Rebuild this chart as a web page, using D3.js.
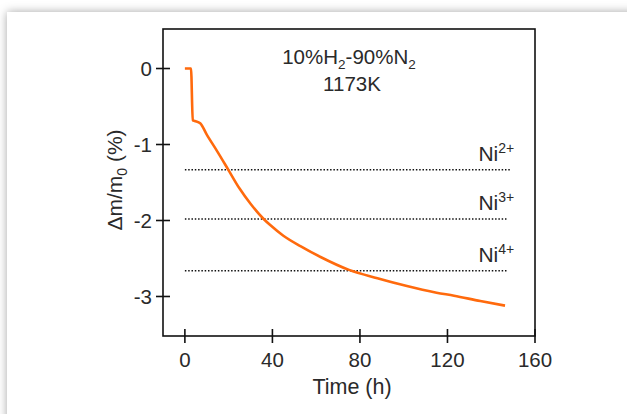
<!DOCTYPE html>
<html lang="en">
    <head>
        <meta charset="utf-8">
        <title>Mass change vs time</title>
        <script src="https://d3js.org/d3.v7.min.js"></script>
        <style type="text/css">
         body { margin: 0; background: #fff; overflow: hidden; }
         #card { position: absolute; left: 7px; top: 12px; width: 700px; height: 500px;
                 background: #fff; box-shadow: 0 0 9px rgba(0,0,0,0.35); }
         svg { position: absolute; left: 0; top: 0; }
         text { font-family: "Liberation Sans", Arial, sans-serif; fill: #2a2a2a; }
        </style>
    </head>
    <body>
        <div id="card"></div>
        <script>
         // Time (h) and mass change (%)
         var timeH = [0, 2.8, 3.6, 4.5, 7, 10, 15, 20, 25, 30, 36, 39, 45, 53, 62, 75, 88, 101, 115, 123, 135, 146.3];
         var dmPct = [0, 0, -0.68, -0.69, -0.72, -0.87, -1.1, -1.34, -1.58, -1.78, -1.98, -2.06, -2.2, -2.34, -2.48, -2.65, -2.76, -2.86, -2.95, -2.99, -3.06, -3.12];

         // reference levels
         var levelNames = ["2+", "3+", "4+"];
         var levelValues = [-1.333, -1.98, -2.66];
         var levelEnd = [148.5, 147, 147];

         var xTicks = [0, 40, 80, 120, 160];
         var yTicks = [0, -1, -2, -3];

         var width = 627, height = 414;
         var margin = {left: 163, top: 29, right: 92, bottom: 78};
         var fs = 20.5;

         var svg = d3.select("body").append("svg")
                     .attr("width", width)
                     .attr("height", height);

         var x = d3.scaleLinear().domain([-10, 160]).range([margin.left, width - margin.right]);
         var y = d3.scaleLinear().domain([-3.52, 0.52]).range([height - margin.bottom, margin.top]);

         // frame
         svg.append("rect")
            .attr("x", x(-10)).attr("y", y(0.52))
            .attr("width", x(160) - x(-10)).attr("height", y(-3.52) - y(0.52))
            .attr("fill", "none").attr("stroke", "#111").attr("stroke-width", 1.6);

         // x ticks (crossing the axis)
         var xAxis = svg.append("g").attr("transform", "translate(0," + y(-3.52) + ")");
         xAxis.selectAll("line").data(xTicks).enter().append("line")
              .attr("x1", function(d) { return x(d); }).attr("x2", function(d) { return x(d); })
              .attr("y1", -7).attr("y2", 7)
              .attr("stroke", "#111").attr("stroke-width", 1.6);
         xAxis.selectAll("text").data(xTicks).enter().append("text")
              .attr("x", function(d) { return x(d); }).attr("y", 31)
              .attr("text-anchor", "middle").attr("font-size", fs)
              .text(function(d) { return d; });

         // y ticks
         var yAxis = svg.append("g").attr("transform", "translate(" + x(-10) + ",0)");
         yAxis.selectAll("line").data(yTicks).enter().append("line")
              .attr("y1", function(d) { return y(d); }).attr("y2", function(d) { return y(d); })
              .attr("x1", -7).attr("x2", 7)
              .attr("stroke", "#111").attr("stroke-width", 1.6);
         yAxis.selectAll("text").data(yTicks).enter().append("text")
              .attr("y", function(d) { return y(d) + 7.5; }).attr("x", -11)
              .attr("text-anchor", "end").attr("font-size", fs)
              .text(function(d) { return d; });

         // axis titles
         svg.append("text")
            .attr("x", 352).attr("y", 394)
            .attr("text-anchor", "middle").attr("font-size", 21.5)
            .text("Time (h)");

         var yl = svg.append("text")
            .attr("transform", "translate(122," + 180 + ") rotate(-90)")
            .attr("text-anchor", "middle").attr("font-size", 21);
         yl.append("tspan").text("\u0394m/m");
         yl.append("tspan").attr("font-size", 14).attr("dy", 5).text("0");
         yl.append("tspan").attr("dy", -5).text(" (%)");

         // dotted reference lines
         svg.selectAll(".lvl").data(levelValues).enter().append("line")
            .attr("class", "lvl")
            .attr("x1", x(0)).attr("x2", function(d, i) { return x(levelEnd[i]); })
            .attr("y1", function(d) { return y(d); }).attr("y2", function(d) { return y(d); })
            .attr("stroke", "#111").attr("stroke-width", 1.5)
            .attr("stroke-dasharray", "1.5,1.8");

         var lab = svg.selectAll(".lab").data(levelValues).enter().append("text")
            .attr("class", "lab")
            .attr("x", x(150.5)).attr("y", function(d) { return y(d) - 9; })
            .attr("text-anchor", "end").attr("font-size", 21);
         lab.append("tspan").text("Ni");
         lab.append("tspan").attr("font-size", 14).attr("dy", -8)
            .text(function(d, i) { return levelNames[i]; });

         // title
         var t1 = svg.append("text").attr("x", 349).attr("y", 64)
                     .attr("text-anchor", "middle").attr("font-size", 20.5);
         t1.append("tspan").text("10%H");
         t1.append("tspan").attr("font-size", 13.5).attr("dy", 5).text("2");
         t1.append("tspan").attr("dy", -5).text("-90%N");
         t1.append("tspan").attr("font-size", 13.5).attr("dy", 5).text("2");
         svg.append("text").attr("x", 352).attr("y", 91)
            .attr("text-anchor", "middle").attr("font-size", 20.5)
            .text("1173K");

         // curve
         var line = d3.line()
                      .x(function(d) { return x(d[0]); })
                      .y(function(d) { return y(d[1]); })
                      .curve(d3.curveMonotoneX);
         svg.append("path")
            .datum(d3.zip(timeH, dmPct))
            .attr("d", line)
            .attr("fill", "none")
            .attr("stroke", "#ff6a0d")
            .attr("stroke-width", 2.6);
        </script>
    </body>
</html>
